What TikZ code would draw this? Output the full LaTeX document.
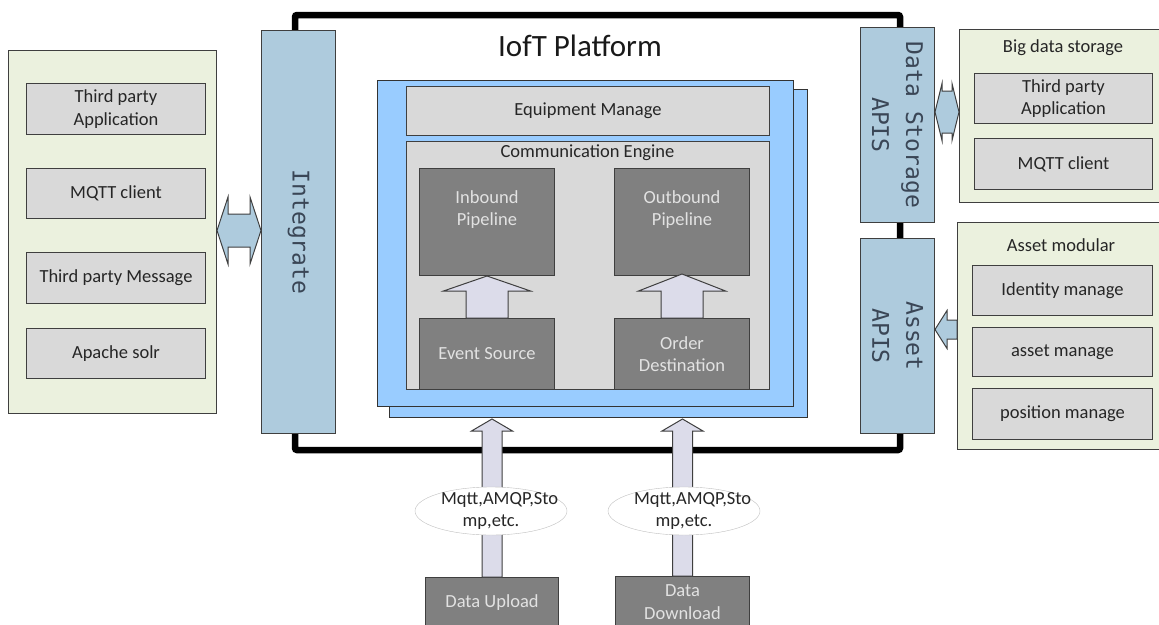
\documentclass[tikz,border=0pt]{standalone}
\usepackage{fontspec}
\setmainfont{Carlito}
\newfontfamily\monof{DejaVu Sans Mono}
\usetikzlibrary{shapes.geometric,calc}
\definecolor{panelgreen}{HTML}{EBF1DE}
\definecolor{itemgray}{HTML}{D9D9D9}
\definecolor{apiblue}{HTML}{AECBDD}
\definecolor{skyblue}{HTML}{99CCFF}
\definecolor{darkbox}{HTML}{808080}
\definecolor{edge}{HTML}{3F3F3F}
\definecolor{arrowfill}{HTML}{DCDCEA}
\definecolor{txt}{HTML}{262626}
\definecolor{apitxt}{HTML}{3A4656}
\definecolor{lighttxt}{HTML}{E2E2E2}
\begin{document}
\begin{tikzpicture}[x=1pt,y=-1pt,
  box/.style={draw=edge, line width=1pt, anchor=north west, inner sep=0pt, align=center,
    font=\fontsize{18.5}{22.5}\selectfont, text=txt},
  panel/.style={box, fill=panelgreen},
  item/.style={box, fill=itemgray},
  apibox/.style={box, fill=apiblue},
  apitext/.style={rotate=-90, align=center, font=\monof\fontsize{23}{34}\selectfont, text=apitxt, inner sep=0pt},
  bluebox/.style={box, fill=skyblue, draw=black!80},
  dark/.style={box, fill=darkbox, text=lighttxt},
  plain/.style={inner sep=0pt, align=center, font=\fontsize{18.5}{22.5}\selectfont, text=txt},
  hollow/.style={draw=edge, line width=1pt, fill=arrowfill, line join=miter},
  bluearrow/.style={draw=edge, line width=1pt, fill=apiblue, line join=miter},
  proto/.style={ellipse, draw=black!25, fill=white, minimum width=152pt, minimum height=48pt,
    inner xsep=0pt, inner ysep=-8pt, text width=100pt, align=center,
    font=\fontsize{18.5}{22.5}\selectfont, text=txt},
  frame/.style={draw=black, line width=6.5pt, rounded corners=2pt}
]
\useasboundingbox (0,0) rectangle (1159,624);
% black platform frame
\draw[frame] (295,15) rectangle (900,450);
% left panel
\node[panel, minimum width=208pt, minimum height=363pt] (lp) at (8,50) {};
\node[item, minimum width=179pt, minimum height=51pt] (l1) at (26,83) {Third party\\Application};
\node[item, minimum width=179pt, minimum height=50pt] (l2) at (26,168) {MQTT client};
\node[item, minimum width=179pt, minimum height=51pt] (l3) at (26,252) {Third party Message};
\node[item, minimum width=179pt, minimum height=50pt] (l4) at (26,328) {Apache solr};
% integrate
\node[apibox, minimum width=74pt, minimum height=403pt] (integ) at (261,30) {};
\node[apitext] (integt) at (integ.center) {Integrate};
% title
\node[plain, font=\fontsize{31}{36}\selectfont, text=black!90] (title) at (580,46) {IofT Platform};
% blue panels
\node[bluebox, minimum width=418pt, minimum height=328pt] (back) at (389,89) {};
\node[bluebox, minimum width=416pt, minimum height=326pt] (front) at (377,80) {};
\node[item, minimum width=363pt, minimum height=49pt] (equip) at (406,86) {Equipment Manage};
\node[item, minimum width=363pt, minimum height=248pt] (comm) at (406,141) {};
\node[plain] (commt) at (587.5,153) {Communication Engine};
\node[dark, minimum width=135pt, minimum height=107pt,
  label={[plain, text=lighttxt, anchor=north, yshift=-22pt]north:{Inbound\\Pipeline}}] (inb) at (419,168) {};
\node[dark, minimum width=135pt, minimum height=107pt,
  label={[plain, text=lighttxt, anchor=north, yshift=-22pt]north:{Outbound\\Pipeline}}] (outb) at (614,168) {};
\node[dark, minimum width=135pt, minimum height=71pt] (ev) at (419,318) {Event Source};
\node[dark, minimum width=135pt, minimum height=71pt] (od) at (614,318) {Order\\Destination};
% inner arrows
\draw[hollow] ([xshift=-21pt]ev.north) -- ([xshift=-21pt,yshift=-15pt]inb.south)
  -- ([xshift=-43.5pt,yshift=-15pt]inb.south) -- (inb.south)
  -- ([xshift=43.5pt,yshift=-15pt]inb.south) -- ([xshift=21pt,yshift=-15pt]inb.south)
  -- ([xshift=21pt]ev.north) -- cycle;
\draw[hollow] ([xshift=-21pt]od.north) -- ([xshift=-21pt,yshift=-15pt]outb.south)
  -- ([xshift=-43.5pt,yshift=-15pt]outb.south) -- ([yshift=2pt]outb.south)
  -- ([xshift=43.5pt,yshift=-15pt]outb.south) -- ([xshift=21pt,yshift=-15pt]outb.south)
  -- ([xshift=21pt]od.north) -- cycle;
% right side
\node[apibox, minimum width=74pt, minimum height=195pt] (dsapi) at (860,27) {};
\node[apitext] (dsapit) at (dsapi.center) {Data Storage\\APIS};
\node[apibox, minimum width=74pt, minimum height=195pt] (aapi) at (860,238) {};
\node[apitext] (aapit) at (aapi.center) {Asset\\APIS};
\node[panel, minimum width=208pt, minimum height=173pt] (bdp) at (959,29) {};
\node[plain] (bdt) at (1063,48) {Big data storage};
\node[item, minimum width=178pt, minimum height=50pt] (bd1) at (974,73) {Third party\\Application};
\node[item, minimum width=178pt, minimum height=51pt] (bd2) at (974,138) {MQTT client};
\node[panel, minimum width=210pt, minimum height=227pt] (amp) at (957,222) {};
\node[plain] (amt) at (1061,245) {Asset modular};
\node[item, minimum width=180pt, minimum height=50pt] (am1) at (972,265) {Identity manage};
\node[item, minimum width=180pt, minimum height=49pt] (am2) at (972,327) {asset manage};
\node[item, minimum width=180pt, minimum height=51pt] (am3) at (972,388) {position manage};
% double arrow left panel <-> integrate
\coordinate (la) at ([yshift=1.5pt]lp.east);
\coordinate (lb) at (la -| integ.west);
\draw[bluearrow] (la) -- ([xshift=11pt,yshift=33.5pt]la) -- ([xshift=11pt,yshift=16.5pt]la)
  -- ([xshift=-11pt,yshift=16.5pt]lb) -- ([xshift=-11pt,yshift=33.5pt]lb) -- (lb)
  -- ([xshift=-11pt,yshift=-33.5pt]lb) -- ([xshift=-11pt,yshift=-16.5pt]lb)
  -- ([xshift=11pt,yshift=-16.5pt]la) -- ([xshift=11pt,yshift=-33.5pt]la) -- cycle;
% double arrow data storage <-> big data
\coordinate (da) at ([yshift=13pt]dsapi.east);
\coordinate (db) at (da -| bdp.west);
\draw[bluearrow] (da) -- ([xshift=7pt,yshift=28.5pt]da) -- ([xshift=7pt,yshift=21pt]da)
  -- ([xshift=-7pt,yshift=21pt]db) -- ([xshift=-7pt,yshift=28.5pt]db) -- (db)
  -- ([xshift=-7pt,yshift=-28.5pt]db) -- ([xshift=-7pt,yshift=-21pt]db)
  -- ([xshift=7pt,yshift=-21pt]da) -- ([xshift=7pt,yshift=-28.5pt]da) -- cycle;
% arrow asset modular -> asset apis
\coordinate (aa) at ([yshift=6.5pt]aapi.east);
\coordinate (ab) at (aa -| amp.west);
\draw[bluearrow] (aa) -- ([xshift=12pt,yshift=19pt]aa) -- ([xshift=12pt,yshift=9.5pt]aa)
  -- ([yshift=9.5pt]ab) -- ([yshift=-9.5pt]ab) -- ([xshift=12pt,yshift=-9.5pt]aa)
  -- ([xshift=12pt,yshift=-19pt]aa) -- cycle;
% bottom
\node[dark, minimum width=133pt, minimum height=50pt] (up) at (425,577) {Data Upload};
\node[dark, minimum width=134pt, minimum height=51pt] (dn) at (615,576) {Data\\Download};
\coordinate (t1) at ([yshift=-1pt]up.north |- back.south);
\coordinate (t2) at ([yshift=-1pt]dn.north |- back.south);
\draw[hollow] ([xshift=-10pt]up.north) -- ([xshift=-10pt,yshift=-12pt]t1)
  -- ([xshift=-20.5pt,yshift=-12pt]t1) -- (t1) -- ([xshift=20.5pt,yshift=-12pt]t1)
  -- ([xshift=10pt,yshift=-12pt]t1) -- ([xshift=10pt]up.north) -- cycle;
\draw[hollow] ([xshift=-10pt]dn.north) -- ([xshift=-10pt,yshift=-12pt]t2)
  -- ([xshift=-20.5pt,yshift=-12pt]t2) -- (t2) -- ([xshift=20.5pt,yshift=-12pt]t2)
  -- ([xshift=10pt,yshift=-12pt]t2) -- ([xshift=10pt]dn.north) -- cycle;
\node[proto] (p1) at (491,511) {Mqtt,AMQP,Sto\\mp,etc.};
\node[proto] (p2) at (684,511) {Mqtt,AMQP,Sto\\mp,etc.};
\end{tikzpicture}
\end{document}
